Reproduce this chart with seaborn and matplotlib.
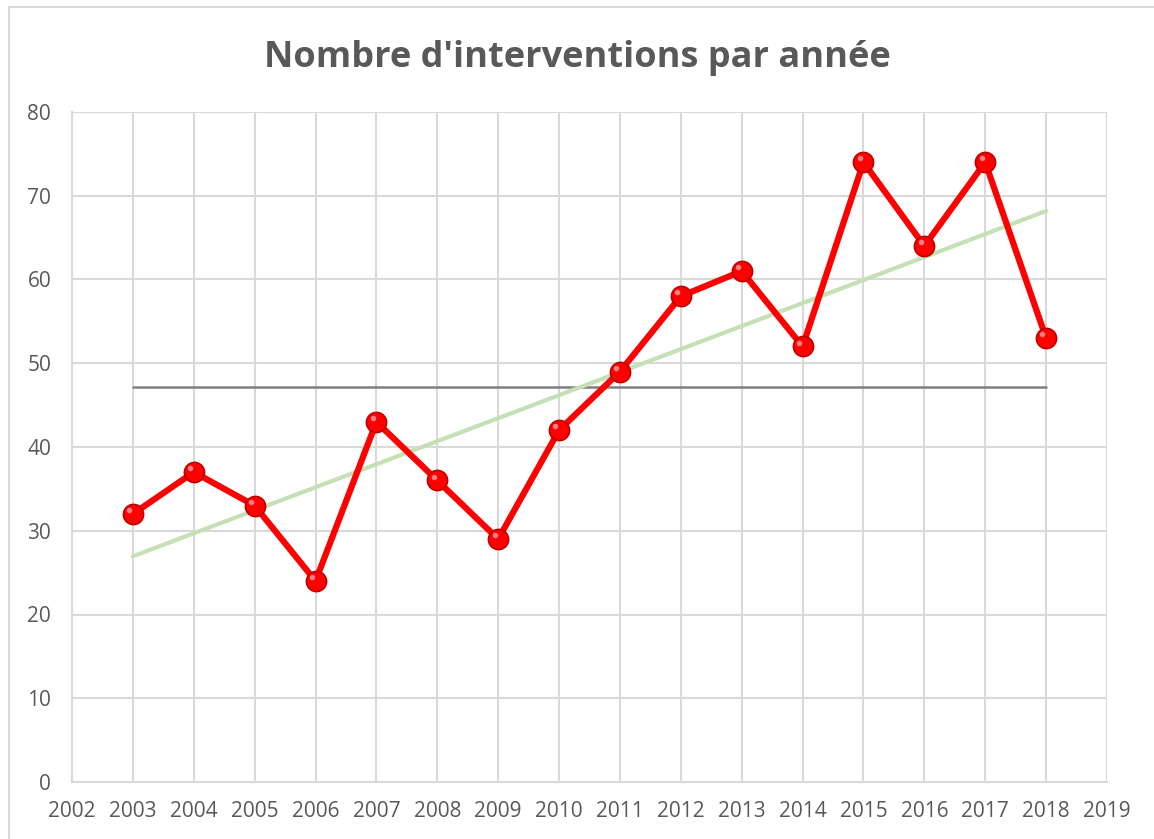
import matplotlib.pyplot as plt
import numpy as np
import pandas as pd
import seaborn as sns
from matplotlib.patches import Rectangle

sns.set_style("white")
plt.rcParams["font.family"] = ["Open Sans", "DejaVu Sans"]

years = [2003, 2004, 2005, 2006, 2007, 2008, 2009, 2010,
         2011, 2012, 2013, 2014, 2015, 2016, 2017, 2018]
interventions = [32, 37, 33, 24, 43, 36, 29, 42,
                 49, 58, 61, 52, 74, 64, 74, 53]
mean_level = 47.2
title = "Nombre d'interventions par année"

df = pd.DataFrame({"annee": years, "interventions": interventions})

fig = plt.figure(figsize=(11.54, 8.39), dpi=100)
fig.patches.append(Rectangle((9 / 1154, -0.1), 1.2, 1.1 - 7 / 839, transform=fig.transFigure,
                             fill=False, edgecolor="#d9d9d9", linewidth=1.5))
ax = fig.add_axes([72 / 1154, 57 / 839, 1035 / 1154, 670 / 839])

# gray mean line
ax.plot([years[0], years[-1]], [mean_level, mean_level], color="#7f7f7f", lw=1.8, zorder=2)

# linear trend
coef = np.polyfit(df["annee"], df["interventions"], 1)
ax.plot([years[0], years[-1]], np.polyval(coef, [years[0], years[-1]]),
        color="#c5e0b4", lw=3, zorder=3)

sns.lineplot(data=df, x="annee", y="interventions", ax=ax, color="#ff0000", lw=4.5,
             marker="o", markersize=14.5, markeredgecolor="#c00000", markeredgewidth=1.2,
             zorder=4)
# small highlight to mimic sphere markers
ax.plot(df["annee"] - 0.06, df["interventions"] + 0.45, "o", color="#ff8080",
        markersize=4, markeredgewidth=0, zorder=5)

ax.set_xlim(2002, 2019)
ax.set_ylim(0, 80)
ax.set_xticks(range(2002, 2020))
ax.set_yticks(range(0, 81, 10))
ax.grid(True, color="#d9d9d9", lw=1.5)
ax.set_axisbelow(True)
for s in ["top", "right"]:
    ax.spines[s].set_visible(False)
for s in ["left", "bottom"]:
    ax.spines[s].set_color("#d9d9d9")
    ax.spines[s].set_linewidth(1.5)
ax.tick_params(axis="both", length=0, labelsize=15, colors="#595959")
ax.tick_params(axis="x", pad=14)
ax.tick_params(axis="y", pad=15)
ax.set_xlabel("")
ax.set_ylabel("")

fig.text(0.5, 1 - 58 / 839, title, ha="center", va="center", fontsize=26,
         fontweight="bold", color="#595959")

fig.savefig("out.png", dpi=100)
